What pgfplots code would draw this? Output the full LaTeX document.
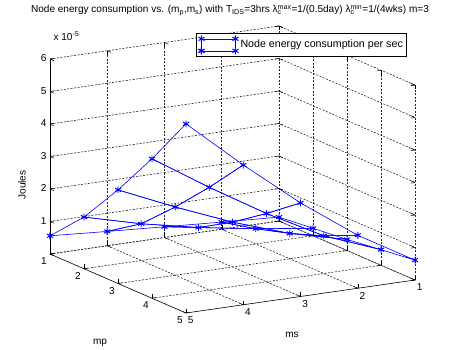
\documentclass[border=0pt]{standalone}
\usepackage{fontspec}
\setmainfont{Liberation Sans}
\usepackage{pgfplots}
\usepackage{pgfplotstable}
\pgfplotsset{compat=1.18}
\usetikzlibrary{calc,backgrounds}

% Energy per node (in units of 1e-5 J) over the (mp, ms) grid
\pgfplotstableread{
mp ms E
1 1 0.12
1 2 0.22
1 3 0.33
1 4 0.44
1 5 0.56
2 1 0.23
2 2 0.47
2 3 0.76
2 4 1.13
2 5 1.59
3 1 0.34
3 2 0.78
3 3 1.38
3 4 2.10
3 5 2.88
4 1 0.48
4 2 1.16
4 3 2.10
4 4 3.16
4 5 4.29
5 1 0.61
5 2 1.63
5 3 2.88
5 4 4.30
5 5 5.82
}\energy

\tikzset{gridline/.style={black!85, dash pattern=on 2pt off 1.5pt, line width=0.6pt}}

\begin{document}
\begin{tikzpicture}[font=\fontsize{10.1}{12}\selectfont]
\begin{axis}[
  x={(34bp,-14.75bp)}, y={(57.25bp,8.25bp)}, z={(0bp,32.5bp)},
  y dir=reverse,
  clip=false,
  xmin=1, xmax=5, ymin=1, ymax=5, zmin=0, zmax=6,
  xtick={1,...,5}, ytick={1,...,5}, ztick={0,...,6},
  zticklabels={,1,2,3,4,5,6},
  /pgf/number format/assume math mode=true,
  axis line style={draw=none},
  tick style={black, line width=0.5pt},
  colormap={allblue}{color=(blue) color=(blue)},
  legend style={at={(axis description cs:0.4,0.976)}, anchor=north west,
    draw=black, line width=0.9pt, fill=white, inner sep=2bp,
    font=\fontsize{10.7}{12}\selectfont},
  legend cell align=left,
]
\addplot3[mesh, mesh/rows=5, mesh/cols=5, line width=0.6pt,
  mark=asterisk, mark size=3.5bp,
  mark options={draw=blue, line width=1pt, solid}, forget plot]
  table[x=mp, y=ms, z=E] {\energy};
\addlegendimage{legend image code/.code={
    \draw[blue, line width=0.6pt, mark=asterisk, mark size=3.5bp,
      mark options={line width=1pt}]
      plot coordinates {(0bp,-6bp) (34bp,-6bp) (34bp,6bp) (0bp,6bp) (0bp,-6bp)};
  }}
\addlegendentry{Node energy consumption per sec}

% solid axis lines (z, mp and ms)
\draw[black, line width=0.6pt] (axis cs:1,5,0) -- (axis cs:1,5,6);
\draw[black, line width=0.6pt] (axis cs:1,5,0) -- (axis cs:5,5,0) -- (axis cs:5,1,0);
\coordinate (A) at (axis cs:1,5,0);
\end{axis}

% dotted grid on the two back walls and the floor, behind the data
\begin{scope}[on background layer, shift={(A)},
    x={(34bp,-14.75bp)}, y={(-57.25bp,-8.25bp)}, z={(0bp,32.5bp)}]
  % local coordinates: (mp-1, ms-5, E)
  \foreach \h in {0,...,6}
    \draw[gridline] (0,0,\h) -- (0,-4,\h) -- (4,-4,\h);
  \foreach \s in {-4,...,-1} {
    \draw[gridline] (0,\s,0) -- (0,\s,6);
    \draw[gridline] (0,\s,0) -- (4,\s,0);
  }
  \foreach \p in {0,...,3}
    \draw[gridline] (\p,0,0) -- (\p,-4,0);
  \foreach \p in {1,...,4}
    \draw[gridline] (\p,-4,0) -- (\p,-4,6);
\end{scope}

\node at ($(A)+(180bp,244bp)$) {Node energy consumption vs. (m\textsubscript{p},m\textsubscript{s}) with T\textsubscript{IDS}=3hrs λ\rlap{\textsubscript{c}}\textsuperscript{max}=1/(0.5day) λ\rlap{\textsubscript{c}}\textsuperscript{min}=1/(4wks) m=3};
\node[anchor=west] at ($(A)+(0bp,218bp)$) {x 10\textsuperscript{-5}};
\node[rotate=90] at ($(A)+(-28bp,69bp)$) {Joules};
\node at ($(A)+(50bp,-89bp)$) {mp};
\node at ($(A)+(242bp,-81bp)$) {ms};

\pgfresetboundingbox
\path[use as bounding box] ($(A)+(-50bp,-96bp)$) rectangle ($(A)+(410bp,254bp)$);
\end{tikzpicture}
\end{document}
